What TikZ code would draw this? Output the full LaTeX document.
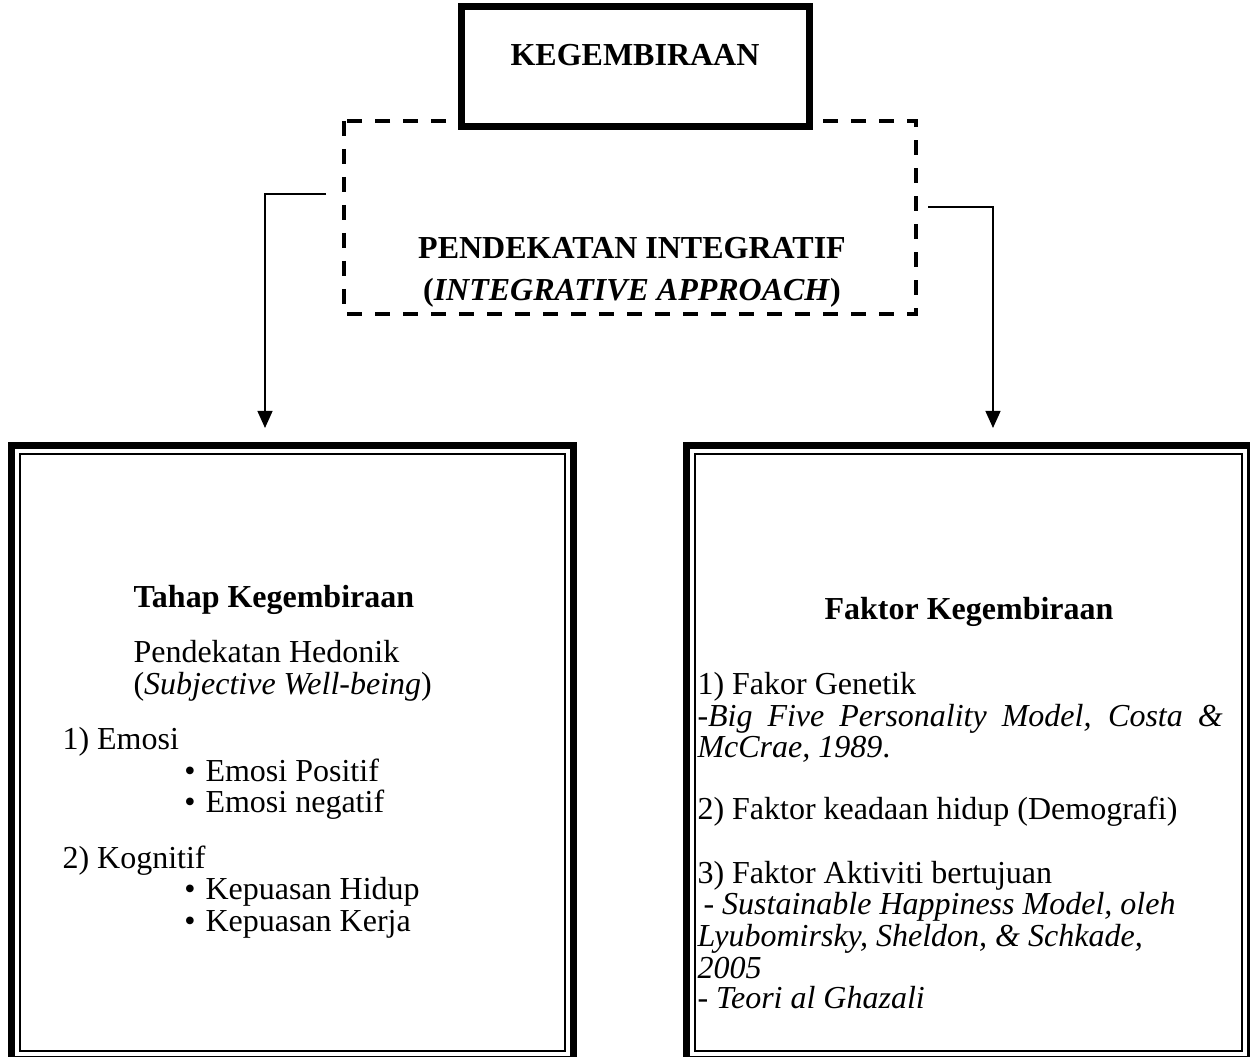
\documentclass[tikz,border=0pt]{standalone}
\usepackage{fontspec}
\setmainfont{Liberation Serif}
\usetikzlibrary{arrows.meta,calc}
\begin{document}
\begin{tikzpicture}[x=0.375pt,y=-0.375pt,
  txt/.style={inner sep=0pt, font=\fontsize{12}{12}\selectfont},
  btxt/.style={txt, font=\fontsize{12}{12}\selectfont\bfseries},
  thickbox/.style={draw=black, line width=2.625pt, fill=white},
  dashbox/.style={draw=black, line width=1.5pt, dash pattern=on 5.6pt off 4.9pt},
  outerline/.style={draw=black, line width=2.625pt},
  innerline/.style={draw=black, line width=0.9pt},
  conn/.style={draw=black, line width=0.65pt, -{Triangle[length=6.4pt,width=5.6pt]}}]
\useasboundingbox (0,0) rectangle (1250,1057);
\clip (0,0) rectangle (1250,1057);
% dashed integrative box
\path (344,121) coordinate (dnw) (916,314) coordinate (dse);
\draw[dashbox] (dnw) rectangle (dse);
% top box
\path (458,3) coordinate (tnw) (813,130) coordinate (tse);
\draw[thickbox] ($(tnw)+(3.5,3.5)$) rectangle ($(tse)+(-3.5,-3.5)$);
\node[btxt, anchor=base] (keg) at (635,66) {KEGEMBIRAAN};
\node[btxt, anchor=base] (pend) at (632,259) {PENDEKATAN INTEGRATIF};
\node[btxt, anchor=base] (integ) at (632,301) {(\textit{INTEGRATIVE APPROACH})};
% big boxes
\path (8,442) coordinate (lnw) (577,1063) coordinate (lse);
\path (683,442) coordinate (rnw) (1254,1063) coordinate (rse);
\draw[outerline] ($(lnw)+(3.5,3.5)$) rectangle ($(lse)+(-3.5,-3.5)$);
\draw[innerline] ($(lnw)+(12,12)$) rectangle ($(lse)+(-12,-12)$);
\draw[outerline] ($(rnw)+(3.5,3.5)$) rectangle ($(rse)+(-3.5,-3.5)$);
\draw[innerline] ($(rnw)+(12,12)$) rectangle ($(rse)+(-12,-12)$);
% connectors
\coordinate (lstart) at (326,194);
\coordinate (ltip) at (265,428);
\coordinate (rstart) at (928,207);
\coordinate (rtip) at (993,428);
\draw[conn] (lstart) -| (ltip);
\draw[conn] (rstart) -| (rtip);
% left box text
\node[btxt, anchor=base west] (l1) at (133,608) {Tahap Kegembiraan};
\node[txt, anchor=base west] (l2) at (133,663) {Pendekatan Hedonik};
\node[txt, anchor=base west] (l3) at (133,695) {(\textit{Subjective Well-being})};
\node[txt, anchor=base west] (l4) at (62,750) {1) Emosi};
\node[txt, anchor=base] (b1) at (190,782) {•};
\node[txt, anchor=base west] (l5) at (205,782) {Emosi Positif};
\node[txt, anchor=base] (b2) at (190,813) {•};
\node[txt, anchor=base west] (l6) at (205,813) {Emosi negatif};
\node[txt, anchor=base west] (l7) at (62,869) {2) Kognitif};
\node[txt, anchor=base] (b3) at (190,900) {•};
\node[txt, anchor=base west] (l8) at (205,900) {Kepuasan Hidup};
\node[txt, anchor=base] (b4) at (190,932) {•};
\node[txt, anchor=base west] (l9) at (205,932) {Kepuasan Kerja};
% right box text
\node[btxt, anchor=base] (r1) at (969,620) {Faktor Kegembiraan};
\node[txt, anchor=base west] (r2) at (697,695) {1) Fakor Genetik};
\node[txt, anchor=base west] (r3) at (697,727) {\makebox[196.9pt][s]{\itshape -Big Five Personality Model, Costa \&}};
\node[txt, anchor=base west] (r4) at (697,758) {\textit{McCrae, 1989}.};
\node[txt, anchor=base west] (r5) at (697,820) {2) Faktor keadaan hidup (Demografi)};
\node[txt, anchor=base west] (r6) at (697,884) {3) Faktor Aktiviti bertujuan};
\node[txt, anchor=base west] (r7) at (703,915) {\textit{- Sustainable Happiness Model, oleh}};
\node[txt, anchor=base west] (r8) at (697,947) {\textit{Lyubomirsky, Sheldon, \& Schkade,}};
\node[txt, anchor=base west] (r9) at (697,978) {\textit{2005}};
\node[txt, anchor=base west] (r10) at (697,1009) {\textit{- Teori al Ghazali}};
\end{tikzpicture}
\end{document}
